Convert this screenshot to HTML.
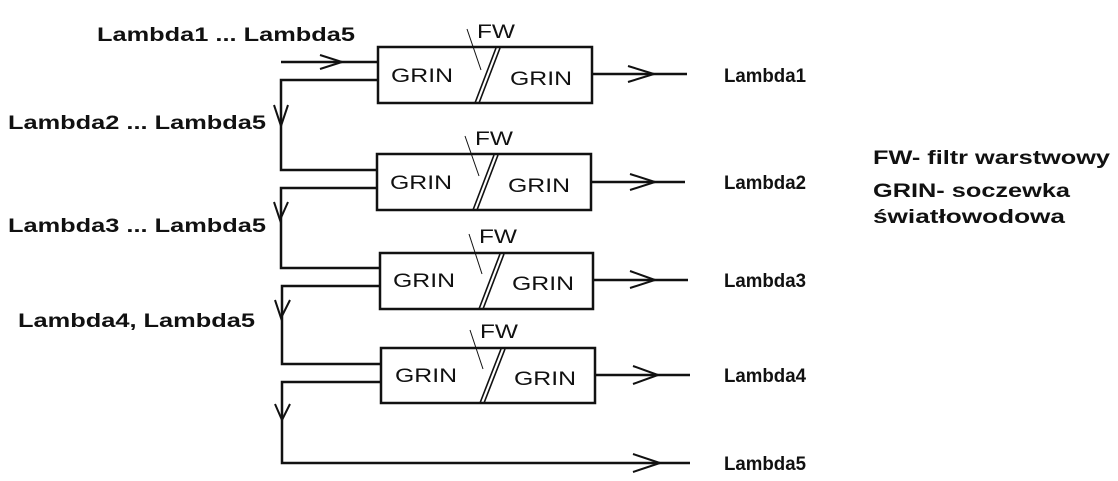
<!DOCTYPE html>
<html><head><meta charset="utf-8"><style>
html,body{margin:0;padding:0;background:#fff;}
svg{display:block;}
text{font-family:"Liberation Sans",sans-serif;fill:#111;}
.b{font-weight:bold;font-size:19px;}
.g{font-size:19px;}
</style></head><body>
<svg width="1118" height="481" viewBox="0 0 1118 481" xmlns="http://www.w3.org/2000/svg">
<g stroke="#111" stroke-width="2.5" fill="none">
<rect x="378" y="47" width="214" height="56"/>
<rect x="377" y="154" width="214" height="56"/>
<rect x="380" y="253" width="213" height="56"/>
<rect x="381" y="348" width="214" height="55"/>
<line x1="281" y1="62" x2="378" y2="62"/>
<polyline points="320,55 342,62 320,69" stroke-width="2"/>
<polyline points="378,80 281,80 281,170 377,170"/>
<polyline points="377,188 281,188 281,268 380,268"/>
<polyline points="380,286 282,286 282,364 381,364"/>
<polyline points="381,382 282,382 282,463 690,463"/>
<polyline points="274,105 281,126 288,105" stroke-width="2"/>
<polyline points="274,202 280,220 288,202" stroke-width="2"/>
<polyline points="275,300 281,318 290,300" stroke-width="2"/>
<polyline points="275,404 282,420 290,404" stroke-width="2"/>
<line x1="592" y1="74" x2="687" y2="74"/>
<polyline points="628,66 654,74 628,82" stroke-width="2"/>
<line x1="591" y1="182" x2="685" y2="182"/>
<polyline points="630,174 655,182 630,190" stroke-width="2"/>
<line x1="593" y1="280" x2="688" y2="280"/>
<polyline points="630,271 655,280 630,288" stroke-width="2"/>
<line x1="595" y1="375" x2="690" y2="375"/>
<polyline points="633,366 658,375 633,384" stroke-width="2"/>
<polyline points="633,454 660,463 633,472" stroke-width="2"/>
<g stroke-width="1.6">
<line x1="496" y1="48" x2="475" y2="103"/><line x1="500" y1="48" x2="479" y2="103"/>
<line x1="494" y1="155" x2="473" y2="210"/><line x1="498" y1="155" x2="477" y2="210"/>
<line x1="500" y1="254" x2="479" y2="309"/><line x1="504" y1="254" x2="483" y2="309"/>
<line x1="501" y1="349" x2="480" y2="403"/><line x1="505" y1="349" x2="484" y2="403"/>
</g>
<g stroke-width="1">
<line x1="467" y1="29" x2="481" y2="70"/>
<line x1="465" y1="136" x2="479" y2="176"/>
<line x1="469" y1="234" x2="482" y2="274"/>
<line x1="470" y1="330" x2="483" y2="369"/>
</g>
</g>
<text class="g" x="477" y="38" textLength="38" lengthAdjust="spacingAndGlyphs">FW</text>
<text class="g" x="475" y="145" textLength="38" lengthAdjust="spacingAndGlyphs">FW</text>
<text class="g" x="479" y="243" textLength="38" lengthAdjust="spacingAndGlyphs">FW</text>
<text class="g" x="480" y="338" textLength="38" lengthAdjust="spacingAndGlyphs">FW</text>
<text class="g" x="391" y="82" textLength="62" lengthAdjust="spacingAndGlyphs">GRIN</text><text class="g" x="510" y="85" textLength="62" lengthAdjust="spacingAndGlyphs">GRIN</text>
<text class="g" x="390" y="189" textLength="62" lengthAdjust="spacingAndGlyphs">GRIN</text><text class="g" x="508" y="192" textLength="62" lengthAdjust="spacingAndGlyphs">GRIN</text>
<text class="g" x="393" y="287" textLength="62" lengthAdjust="spacingAndGlyphs">GRIN</text><text class="g" x="512" y="290" textLength="62" lengthAdjust="spacingAndGlyphs">GRIN</text>
<text class="g" x="395" y="382" textLength="62" lengthAdjust="spacingAndGlyphs">GRIN</text><text class="g" x="514" y="385" textLength="62" lengthAdjust="spacingAndGlyphs">GRIN</text>
<text class="b" x="97" y="41" textLength="258" lengthAdjust="spacingAndGlyphs">Lambda1 ... Lambda5</text>
<text class="b" x="8" y="129" textLength="258" lengthAdjust="spacingAndGlyphs">Lambda2 ... Lambda5</text>
<text class="b" x="8" y="232" textLength="258" lengthAdjust="spacingAndGlyphs">Lambda3 ... Lambda5</text>
<text class="b" x="18" y="327" textLength="237" lengthAdjust="spacingAndGlyphs">Lambda4, Lambda5</text>
<text class="b" x="724" y="82" textLength="82" lengthAdjust="spacingAndGlyphs">Lambda1</text>
<text class="b" x="724" y="189" textLength="82" lengthAdjust="spacingAndGlyphs">Lambda2</text>
<text class="b" x="724" y="287" textLength="82" lengthAdjust="spacingAndGlyphs">Lambda3</text>
<text class="b" x="724" y="382" textLength="82" lengthAdjust="spacingAndGlyphs">Lambda4</text>
<text class="b" x="724" y="470" textLength="82" lengthAdjust="spacingAndGlyphs">Lambda5</text>
<text class="b" x="873" y="164" textLength="237" lengthAdjust="spacingAndGlyphs">FW- filtr warstwowy</text>
<text class="b" x="873" y="197" textLength="197" lengthAdjust="spacingAndGlyphs">GRIN- soczewka</text>
<text class="b" x="873" y="223" textLength="192" lengthAdjust="spacingAndGlyphs">światłowodowa</text>
</svg>
</body></html>
